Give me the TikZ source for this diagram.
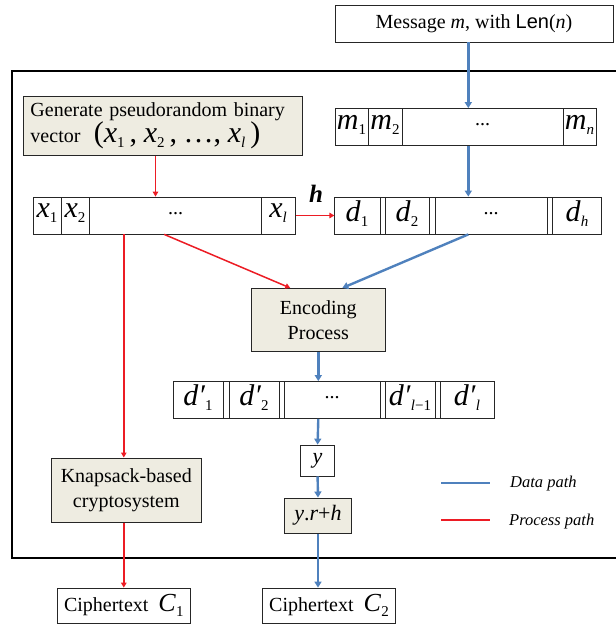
\documentclass[tikz,border=0pt]{standalone}
\usepackage{fontspec}
\setmainfont{Liberation Serif}
\newfontfamily\lensans{Liberation Sans}
\usetikzlibrary{arrows.meta}
\definecolor{datablue}{RGB}{79,129,189}
\definecolor{procred}{RGB}{236,28,36}
\definecolor{boxfill}{RGB}{238,236,225}
\newcommand{\sv}[2]{\textit{#1}\raisebox{-5pt}{\fontsize{15}{15}\selectfont #2}}
\newcommand{\cellfont}{\fontsize{30}{30}\selectfont}
\newcommand{\dotsfont}{\fontsize{20}{24}\selectfont}
\tikzset{
  box/.style={draw=black!85, line width=0.8pt, inner sep=0pt},
  procbox/.style={box, fill=boxfill, line width=1pt, align=center},
  cell/.style={inner sep=0pt, font=\cellfont},
  divider/.style={draw=black!85, line width=0.7pt},
  datapath/.style={draw=datablue, line width=2.4pt},
  procpath/.style={draw=procred, line width=1.5pt},
  dataarrow/.style={datapath, -{Triangle[length=6pt,width=7pt]}},
  procarrow/.style={procpath, -{Triangle[length=5pt,width=5.5pt]}},
  legend/.style={anchor=west, inner sep=0pt, font=\fontsize{16.5}{17}\selectfont\itshape}
}
\begin{document}
\begin{tikzpicture}[x=1pt,y=-1pt,font=\fontsize{20}{25}\selectfont]
\useasboundingbox (0,0) rectangle (616,627);
\draw[line width=1.6pt] (12,71) rectangle (630,558);

\node[box, minimum width=278pt, minimum height=37pt] (msg) at (474,23.5) {Message \textit{m}, with {\lensans Len}(\textit{n})};

\node[procbox, text width=264pt, inner sep=0pt, minimum width=279pt, minimum height=59pt, align=left] (gen) at (162.5,125.5)
  {\makebox[\linewidth][s]{Generate pseudorandom binary}\\vector\ \ {\fontsize{30}{25}\selectfont(\sv{x}{1}\,, \sv{x}{2}\,, \dots, \sv{x}{\textit{l}}\,)}};

\node[box, minimum width=261pt, minimum height=37pt] (mbox) at (465.5,127) {};
\foreach \x in {368,402,563} \draw[divider] (\x,108.5) -- (\x,145.5);
\foreach \x/\t [count=\i] in {351.5/\sv{m}{1}, 385/\sv{m}{2}, 482.5/{\dotsfont...}, 579.5/\sv{m}{\textit{n}}}
  \node[cell] (m\i) at (\x,125) {\t};

\node[box, minimum width=262pt, minimum height=37pt] (xbox) at (164.2,215.5) {};
\foreach \x in {61,89.3,261.7} \draw[divider] (\x,197) -- (\x,234);
\foreach \x/\t [count=\i] in {47/\sv{x}{1}, 75/\sv{x}{2}, 175.5/{\dotsfont...}, 278/\sv{x}{\textit{l}}}
  \node[cell] (x\i) at (\x,213.5) {\t};

\node[box, minimum width=267pt, minimum height=37pt] (dbox) at (468.3,215.5) {};
\foreach \x in {380,385.4,429.4,435,547,552.4} \draw[divider] (\x,197) -- (\x,234);
\foreach \x/\t [count=\i] in {357/\sv{d}{1}, 407/\sv{d}{2}, 491/{\dotsfont...}, 577/\sv{d}{\textit{h}}}
  \node[cell] (d\i) at (\x,213.5) {\t};

\node[procbox, minimum width=133.5pt, minimum height=63pt] (enc) at (318.3,320) {Encoding\\Process};

\node[box, minimum width=321pt, minimum height=37pt] (dpbox) at (333.8,400) {};
\foreach \x in {223.3,229,279.3,284.3,380,385,435,440} \draw[divider] (\x,381.5) -- (\x,418.5);
\foreach \x/\t [count=\i] in {198/\sv{d′}{1}, 254/\sv{d′}{2}, 332/{\dotsfont...}, 410/\sv{d′}{\textit{l}−1}, 467/\sv{d′}{\textit{l}}}
  \node[cell] (dp\i) at (\x,398) {\t};

\node[box, minimum width=34pt, minimum height=31pt, font=\fontsize{22}{22}\selectfont] (ybox) at (317.6,460.5) {\textit{y}};
\node[procbox, minimum width=67pt, minimum height=35pt, font=\fontsize{22}{22}\selectfont] (yr) at (318,515.5) {\textit{y}.\textit{r}+\textit{h}};
\node[procbox, minimum width=150.5pt, minimum height=64pt] (knap) at (126.3,490) {Knapsack-based\\cryptosystem};

\node[box, minimum width=133.5pt, minimum height=35pt] (c1) at (123.8,605.5) {Ciphertext\ \ {\fontsize{26}{26}\selectfont\sv{C}{1}}};
\node[box, minimum width=133.5pt, minimum height=35pt] (c2) at (329,605.5) {Ciphertext\ \ {\fontsize{26}{26}\selectfont\sv{C}{2}}};

\draw[dataarrow] (msg.south -| dbox) -- (mbox.north -| dbox);
\draw[dataarrow] (mbox.south -| dbox) -- (dbox.north);
\draw[procarrow] ([xshift=-7pt]gen.south) -- ([xshift=-7pt]gen.south |- xbox.north);
\draw[procarrow] (xbox.east) -- (dbox.west);
\node[font=\fontsize{25}{25}\selectfont\bfseries\itshape] (hlab) at (316,194) {h};
\draw[procarrow] (xbox.south) -- ([xshift=-28pt]enc.north);
\draw[dataarrow] (dbox.south) -- ([xshift=24pt]enc.north);
\draw[procarrow] (c1.north |- xbox.south) -- (c1.north |- knap.north);
\draw[dataarrow] (enc.south) -- (enc.south |- dpbox.north);
\draw[dataarrow] (enc.south |- dpbox.south) -- (ybox.north);
\draw[dataarrow] (ybox.south) -- (yr.north);
\draw[dataarrow] (yr.south) -- (yr.south |- c2.north);
\draw[procarrow] (c1.north |- knap.south) -- (c1.north);

\coordinate (lgd1) at (441,483);
\coordinate (lgd2) at (490,483);
\coordinate (lgd3) at (441,520);
\coordinate (lgd4) at (490,520);
\draw[datapath] (lgd1) -- (lgd2);
\draw[procpath] (lgd3) -- (lgd4);
\node[legend] (lgdt1) at (510,484) {Data path};
\node[legend] (lgdt2) at (509,522) {Process path};
\end{tikzpicture}
\end{document}
